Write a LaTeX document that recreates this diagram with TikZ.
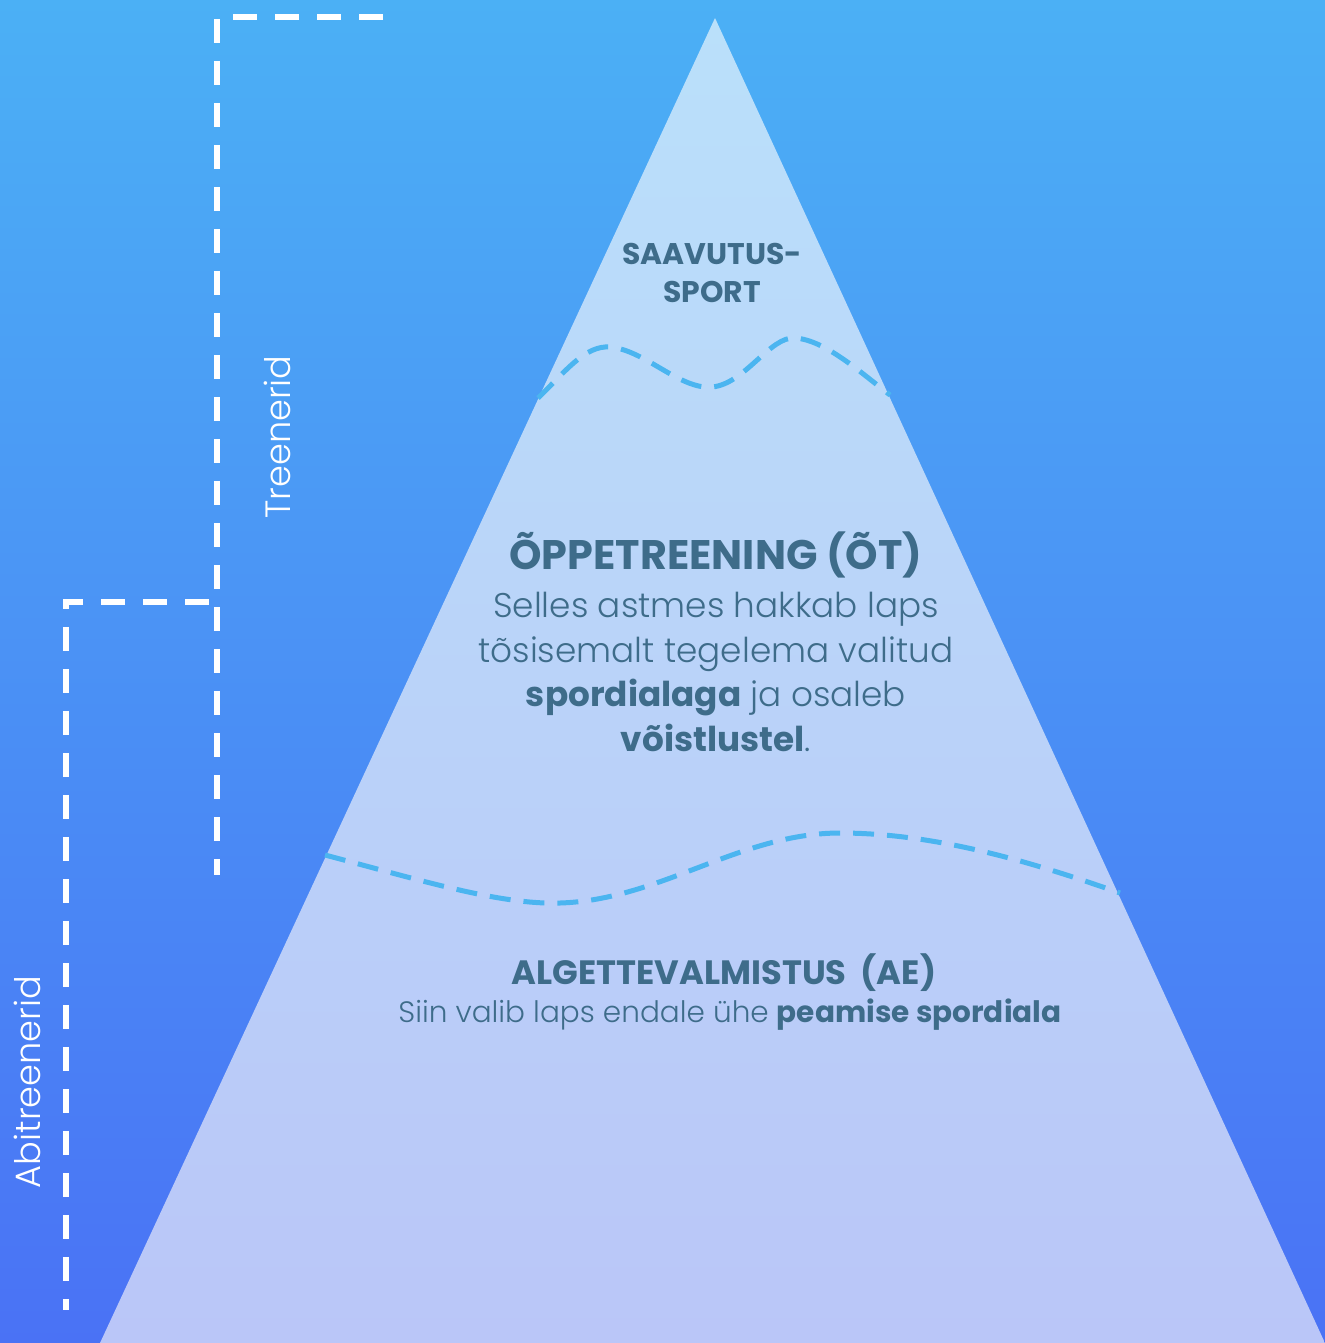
\documentclass[tikz,border=0pt]{standalone}
\usepackage{fontspec}
\setmainfont{Poppins}[UprightFont=* Light, BoldFont=* Bold]
\definecolor{bgtop}{RGB}{75,176,245}
\definecolor{bgbot}{RGB}{74,114,245}
\definecolor{tritop}{RGB}{186,224,250}
\definecolor{tribot}{RGB}{186,198,248}
\definecolor{wavblue}{RGB}{75,181,240}
\definecolor{txtblue}{RGB}{62,108,138}

\begin{document}
\begin{tikzpicture}[x=0.02cm,y=-0.02cm,
    wave/.style={draw=wavblue, line width=0.1cm, dash pattern=on 0.42cm off 0.26cm},
    bracket/.style={draw=white, line width=0.12cm, dash pattern=on 0.48cm off 0.36cm},
    txt/.style={text=txtblue, align=center, inner sep=0pt},
    side/.style={text=white, inner sep=0pt, rotate=90, font=\fontsize{20}{24}\selectfont}]
    \useasboundingbox (0,0) rectangle (1325,1343);
    \shade[top color=bgtop, bottom color=bgbot] (0,0) rectangle (1325,1343);

    % pyramid
    \shade[top color=tritop, bottom color=tribot] (715,18) -- (1325,1343) -- (100,1343) -- cycle;

    % level borders
    \draw[wave] (538,398) .. controls (565,372) and (585,345) .. (610,347)
        .. controls (645,350) and (680,390) .. (712,387)
        .. controls (745,384) and (770,336) .. (795,338)
        .. controls (825,340) and (860,372) .. (890,395);
    \draw[wave] (325,855) .. controls (420,880) and (500,905) .. (560,903)
        .. controls (660,900) and (740,833) .. (840,833)
        .. controls (940,833) and (1040,865) .. (1120,893);

    % coaches
    \coordinate (treeTop) at (383,17);
    \coordinate (treeCorner) at (217,17);
    \coordinate (treeEnd) at (217,875);
    \draw[bracket] (treeTop) -- (treeCorner) -- (treeEnd);
    \coordinate (abiTop) at (209,602);
    \coordinate (abiCorner) at (66,602);
    \coordinate (abiEnd) at (66,1310);
    \draw[bracket] (abiTop) -- (abiCorner) -- (abiEnd);
    \node[side] (treenerid) at (277,437) {Treenerid};
    \node[side] (abitreenerid) at (27,1082) {Abitreenerid};

    % levels
    \node[txt, font=\fontsize{17}{22}\selectfont\bfseries] (saavutus) at (712,273) {SAAVUTUS-\\SPORT};
    \node[txt, font=\fontsize{23.5}{27}\selectfont\bfseries] (ot) at (716,555) {ÕPPETREENING (ÕT)};
    \node[txt, font=\fontsize{19.5}{25.5}\selectfont] (otText) at (716,672)
        {Selles astmes hakkab laps\\tõsisemalt tegelema valitud\\\textbf{spordialaga} ja osaleb\\\textbf{võistlustel}.};
    \node[txt, font=\fontsize{19.2}{22}\selectfont\bfseries] (ae) at (724,973) {ALGETTEVALMISTUS\ \ (AE)};
    \node[txt, font=\fontsize{16.8}{20}\selectfont] (aeText) at (730,1015) {Siin valib laps endale ühe \textbf{peamise spordiala}};
\end{tikzpicture}
\end{document}
